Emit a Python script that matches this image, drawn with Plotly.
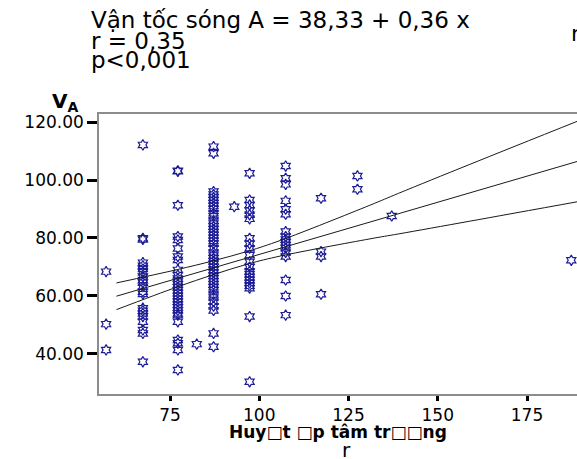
import plotly.graph_objects as go

# ---- data ----
col_x = [57.1, 67.4, 77.2, 82.5, 87.2, 93.0, 97.3, 107.4, 117.3, 127.5, 137.1, 187.4]
col_y = [
    [68.4, 50.3, 41.4],
    [112.1, 79.9, 79.5, 71.5, 70.4, 69.3, 68.2, 66.7, 65.5, 64.6, 63.2, 61.5, 60.7,
     55.8, 54.9, 54.0, 52.9, 51.1, 48.3, 47.1, 37.3],
    [103.2, 103.0, 91.3, 80.5, 79.3, 76.4, 73.6, 72.4, 69.0, 67.2, 66.0, 65.0, 64.0,
     63.0, 62.0, 61.0, 60.0, 59.0, 58.0, 57.0, 56.0, 55.0, 54.0, 53.4, 51.1, 44.8,
     43.7, 41.4, 34.5],
    [43.4],
    [111.5, 109.2, 96.0, 95.0, 94.0, 93.0, 92.0, 91.0, 90.0, 88.5, 87.5, 86.0, 85.0,
     84.0, 83.0, 82.0, 81.0, 80.0, 79.0, 78.0, 76.5, 75.0, 74.0, 73.0, 72.0, 71.0,
     70.0, 69.0, 68.0, 67.0, 66.0, 65.0, 64.0, 63.0, 62.0, 60.5, 59.5, 58.0, 56.5,
     55.0, 47.1, 42.5],
    [90.8],
    [102.3, 93.1, 91.4, 89.5, 88.0, 86.6, 79.9, 78.0, 76.5, 74.1, 71.8, 70.0, 68.5,
     67.5, 66.5, 65.5, 64.5, 63.5, 62.7, 52.9, 30.4],
    [104.8, 100.6, 98.5, 92.8, 89.9, 88.2, 82.2, 80.5, 79.5, 78.5, 77.5, 76.5, 75.0,
     73.6, 65.5, 60.0, 53.4],
    [93.7, 75.3, 73.6, 60.6],
    [101.4, 96.8],
    [87.6],
    [72.3],
]

intercept = 38.33
slope = 0.36
fit_x = [60, 190]

band_x = [60, 77, 87, 97, 106, 131, 139, 159, 190]
band_upper = [64.5, 69.1, 72.1, 75.5, 79.2, 91.3, 95.4, 105.4, 120.7]
band_lower = [55.3, 63.1, 67.3, 71.1, 73.8, 79.7, 81.4, 85.8, 92.7]

y_ticks = [40, 60, 80, 100, 120]
x_ticks = [75, 100, 125, 150, 175]

title_lines = ["Vận tốc sóng A = 38,33 + 0,36 x", "r = 0,35", "p<0,001"]
x_title = "Huy\u25a1t \u25a1p tâm tr\u25a1\u25a1ng"
y_title = "<b>V<sub>A</sub></b>"

# ---- figure ----
W, H = 577, 459
L, R, T, B = 99, 0, 114, 65
pw, ph = W - L - R, H - T - B

def px(xp):
    return (xp - L) / pw

def py(yp):
    return (H - B - yp) / ph

pts_x, pts_y = [], []
for cx, ys in zip(col_x, col_y):
    for v in ys:
        pts_x.append(cx)
        pts_y.append(v)

fig = go.Figure()
fig.add_trace(go.Scatter(
    x=pts_x, y=pts_y, mode="markers",
    marker=dict(symbol="hexagram-open", size=8, color="#1c1c96",
                line=dict(width=1.2, color="#1c1c96")),
    showlegend=False, hoverinfo="skip"))

fig.add_trace(go.Scatter(
    x=fit_x, y=[intercept + slope * v for v in fit_x], mode="lines",
    line=dict(color="#1a1a1a", width=1), showlegend=False))
for band in (band_upper, band_lower):
    fig.add_trace(go.Scatter(
        x=band_x, y=band, mode="lines", line_shape="spline",
        line=dict(color="#1a1a1a", width=1), showlegend=False))

font = "DejaVu Sans"
fig.update_layout(
    width=W, height=H,
    margin=dict(l=L, r=R, t=T, b=B, pad=0, autoexpand=False),
    paper_bgcolor="white", plot_bgcolor="white",
    font=dict(family=font, color="black"),
    xaxis=dict(range=[55.11, 189.0], tickvals=x_ticks, ticks="outside",
               ticklen=5, tickwidth=3, tickcolor="black", automargin=False,
               showline=True, linecolor="#8c8c8c", linewidth=1.5, mirror=True,
               showgrid=False, zeroline=False,
               tickfont=dict(size=17, family=font)),
    yaxis=dict(range=[26.2, 122.76], tickvals=y_ticks, tickformat=".2f",
               ticks="outside", ticklen=10, tickwidth=3, tickcolor="black",
               automargin=False,
               showline=True, linecolor="#8c8c8c", linewidth=1.5, mirror=False,
               showgrid=False, zeroline=False,
               tickfont=dict(size=17, family=font)),
)

ann = []
for txt, yc in zip(title_lines, [20, 41, 60]):
    ann.append(dict(text=txt, x=px(89), y=py(yc), xref="paper", yref="paper",
                    xanchor="left", yanchor="middle", showarrow=False,
                    font=dict(size=23, family=font)))
ann.append(dict(text="r", x=px(569), y=py(34), xref="paper", yref="paper",
                xanchor="left", yanchor="middle", showarrow=False,
                font=dict(size=22, family=font)))
ann.append(dict(text=y_title, x=px(50), y=py(102), xref="paper", yref="paper",
                xanchor="left", yanchor="middle", showarrow=False,
                font=dict(size=20, family=font)))
ann.append(dict(text="<b>" + x_title + "</b>", x=px(338), y=py(420),
                xref="paper", yref="paper", xanchor="center", yanchor="top",
                showarrow=False, font=dict(size=17, family=font)))
ann.append(dict(text="r", x=px(346), y=py(450), xref="paper", yref="paper",
                xanchor="center", yanchor="middle", showarrow=False,
                font=dict(size=20, family=font)))
fig.update_layout(annotations=ann)

fig.write_html(
    "out.html",
    config={"displayModeBar": False},
    post_script="document.body.style.margin='0';document.body.style.overflow='hidden';",
)
